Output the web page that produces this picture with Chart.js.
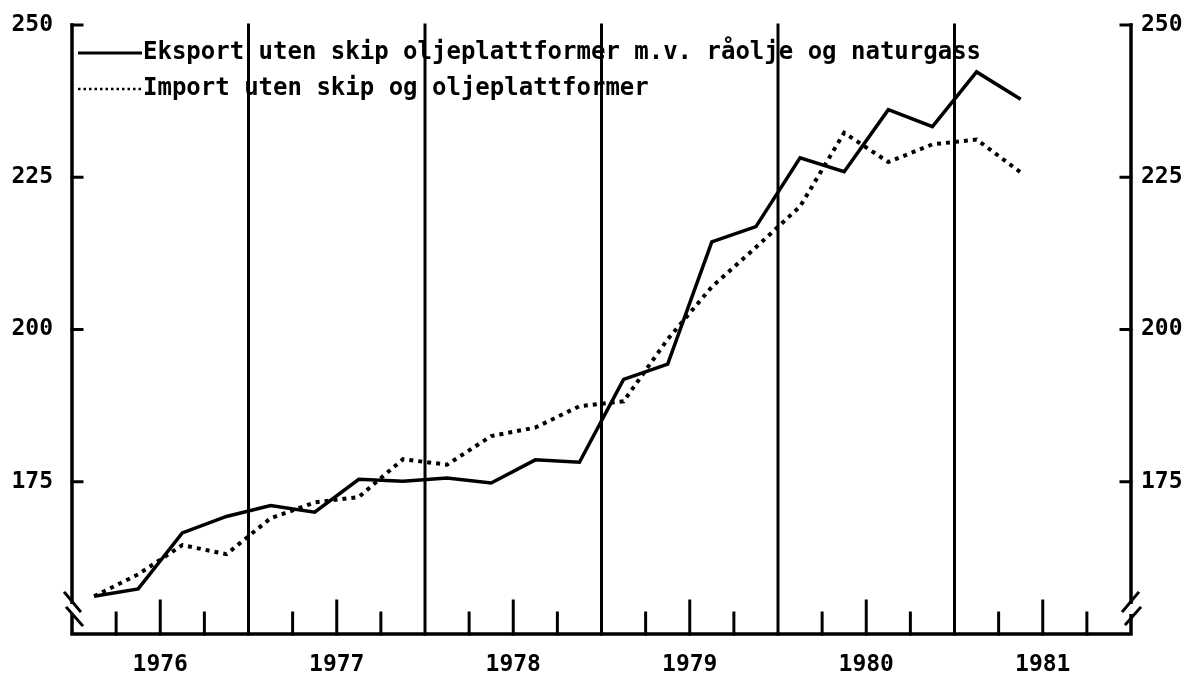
<!DOCTYPE html>
<html>
<head>
<meta charset="utf-8">
<script src="https://cdn.jsdelivr.net/npm/chart.js@4"></script>
<style>
  html, body { margin: 0; padding: 0; background: #fff; }
</style>
</head>
<body>
<canvas id="chart" width="1193" height="680"></canvas>
<script>
// Quarters 1976K1 .. 1981K4 (x axis spans six whole years)
const years = ["1976", "1977", "1978", "1979", "1980", "1981"];
const quarters = [];
years.forEach((yr) => {
  for (let k = 1; k <= 4; k++) quarters.push(yr + "K" + k);
});

// Values, 1976K1 .. 1981K2
const eksport = [
  156.2, 157.4, 166.6, 169.3, 171.1, 170.0, 175.4, 175.1, 175.6, 174.8, 178.6,
  178.2, 191.8, 194.3, 214.4, 216.9, 228.2, 225.9, 236.1, 233.3, 242.3, 237.8,
];
const importSerie = [
  156.2, 159.8, 164.6, 163.1, 169.0, 171.6, 172.5, 178.7, 177.8, 182.5, 183.9,
  187.4, 188.2, 198.4, 207.0, 213.5, 220.2, 232.3, 227.5, 230.4, 231.2, 225.8,
];
const yTicks = [175, 200, 225, 250];

const labelFont = { family: "DejaVu Sans Mono", size: 23, weight: "bold" };

const toPoints = (values) => values.map((v, i) => ({ x: i + 0.5, y: v }));

// axes, quarter ticks, year lines and axis breaks
const frame = {
  id: "frame",
  beforeDatasetsDraw(chart) {
    const { ctx, chartArea: a, scales } = chart;
    const x = scales.x;
    const y = scales.y;
    const line = (x1, y1, x2, y2) => {
      ctx.beginPath();
      ctx.moveTo(x1, y1);
      ctx.lineTo(x2, y2);
      ctx.stroke();
    };
    ctx.save();
    ctx.strokeStyle = "#000";
    ctx.lineCap = "square";

    // year boundaries and quarter ticks
    for (let q = 1; q < quarters.length; q++) {
      const px = x.getPixelForValue(q);
      ctx.lineWidth = 3;
      if (q % 4 === 0) {
        line(px, a.top, px, a.bottom);
      } else {
        const len = q % 4 === 2 ? 33 : 21;
        line(px, a.bottom - len, px, a.bottom);
      }
    }

    // axes
    ctx.lineWidth = 3.5;
    ctx.beginPath();
    ctx.moveTo(a.left, a.top);
    ctx.lineTo(a.left, a.bottom);
    ctx.lineTo(a.right, a.bottom);
    ctx.lineTo(a.right, a.top);
    ctx.stroke();

    // y ticks pointing inward
    ctx.lineWidth = 3;
    yTicks.forEach((v) => {
      const py = y.getPixelForValue(v);
      line(a.left, py, a.left + 10, py);
      line(a.right - 10, py, a.right, py);
    });

    // axis breaks
    const yb1 = a.bottom - 32;
    const yb2 = a.bottom - 18;
    ctx.fillStyle = "#fff";
    ctx.fillRect(a.left - 3, yb1 + 2, 6, yb2 - yb1 - 4);
    ctx.fillRect(a.right - 3, yb1 + 2, 6, yb2 - yb1 - 4);
    ctx.lineWidth = 3;
    line(a.left - 7, yb1 - 9, a.left + 8, yb1 + 9);
    line(a.left - 5, yb2 - 8, a.left + 10, yb2 + 9);
    line(a.right - 8, yb1 + 9, a.right + 7, yb1 - 9);
    line(a.right - 5, yb2 + 8, a.right + 9, yb2 - 8);
    ctx.restore();
  },
};

// legend inside the plot, top left
const legendBox = {
  id: "legendBox",
  afterDraw(chart) {
    const { ctx, chartArea: a } = chart;
    chart.data.datasets.forEach((ds, i) => {
      const yy = a.top + 28 + i * 36;
      ctx.save();
      ctx.strokeStyle = "#000";
      if (ds.borderDash) {
        ctx.lineWidth = 2.5;
        ctx.setLineDash([2.5, 3]);
      } else {
        ctx.lineWidth = 3;
      }
      ctx.beginPath();
      ctx.moveTo(a.left + 6, yy);
      ctx.lineTo(a.left + 70, yy);
      ctx.stroke();
      ctx.setLineDash([]);
      ctx.fillStyle = "#000";
      ctx.font = 'bold 24px "DejaVu Sans Mono"';
      ctx.textBaseline = "middle";
      ctx.fillText(ds.label, a.left + 71, yy);
      ctx.restore();
    });
  },
};

const yAxis = (position, width, padding) => ({
  type: "linear",
  position: position,
  min: 150,
  max: 250,
  grid: { display: false, drawTicks: false },
  border: { display: false },
  ticks: {
    stepSize: 25,
    padding: padding,
    color: "#000",
    font: labelFont,
    callback: (v) => (yTicks.includes(v) ? String(v) : ""),
  },
  afterFit: (scale) => {
    scale.width = width;
    scale.paddingTop = 0;
    scale.paddingBottom = 0;
  },
});

new Chart(document.getElementById("chart"), {
  type: "line",
  data: {
    datasets: [
      {
        label: "Eksport uten skip oljeplattformer m.v. råolje og naturgass",
        data: toPoints(eksport),
        borderColor: "#000",
        borderWidth: 3.5,
        pointRadius: 0,
        tension: 0,
        fill: false,
      },
      {
        label: "Import uten skip og oljeplattformer",
        data: toPoints(importSerie),
        borderColor: "#000",
        borderWidth: 4,
        borderDash: [4, 5],
        pointRadius: 0,
        tension: 0,
        fill: false,
      },
    ],
  },
  options: {
    responsive: false,
    animation: false,
    layout: { padding: { top: 25, bottom: 0 } },
    plugins: {
      legend: { display: false },
      tooltip: { enabled: false },
    },
    scales: {
      x: {
        type: "linear",
        min: 0,
        max: quarters.length,
        grid: { display: false, drawTicks: false },
        border: { display: false },
        ticks: {
          stepSize: 1,
          autoSkip: false,
          maxRotation: 0,
          padding: 17,
          color: "#000",
          font: labelFont,
          callback: (v) => (v % 4 === 2 ? years[(v - 2) / 4] : ""),
        },
        afterFit: (scale) => {
          scale.height = 46;
          scale.paddingLeft = 0;
          scale.paddingRight = 0;
        },
      },
      y: yAxis("left", 72, 19),
      y2: yAxis("right", 62, 10),
    },
  },
  plugins: [frame, legendBox],
});
</script>
</body>
</html>
